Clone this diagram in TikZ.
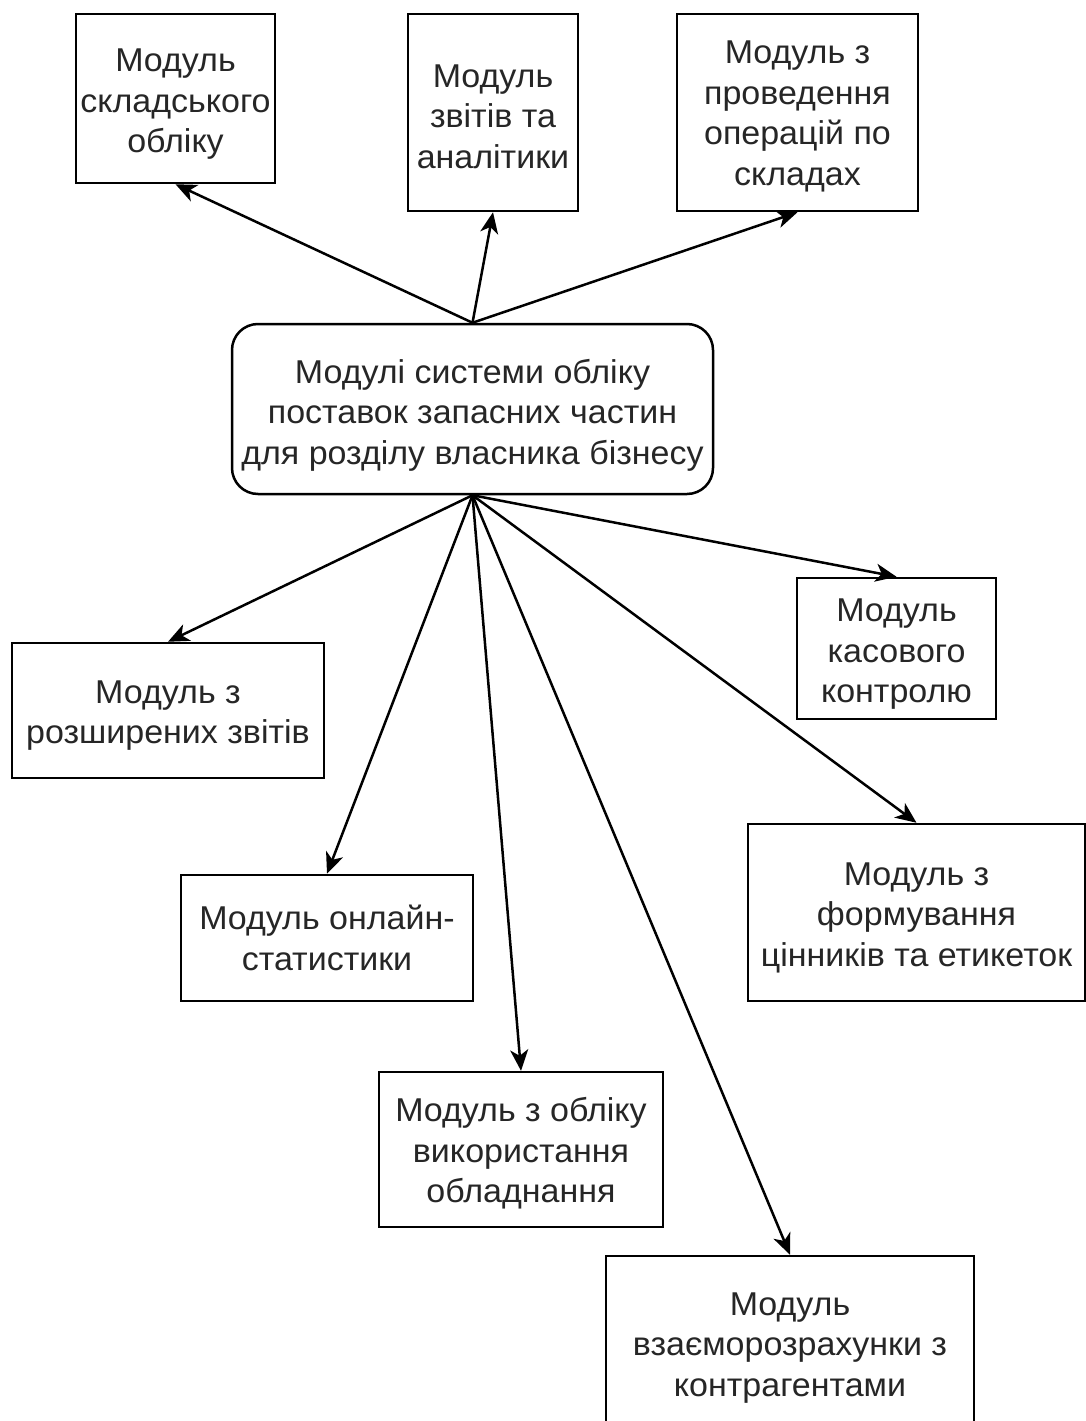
\documentclass[tikz,border=0pt]{standalone}
\usepackage{fontspec}
\setmainfont[FakeStretch=1.03]{Liberation Sans}
\usetikzlibrary{arrows.meta}
\begin{document}
\begin{tikzpicture}[x=1pt,y=-1pt,
  box/.style={draw=black,line width=2.5pt,fill=white,rectangle,inner sep=0pt},
  lbl/.style={align=center,inner sep=0pt,text=black!85,
    font=\fontsize{33}{40.5}\selectfont},
  arr/.style={line width=2.5pt,-{Stealth[length=21pt,width=18pt,inset=6pt]}}]
\useasboundingbox (0,0) rectangle (1086,1421);
\fill[white] (0,0) rectangle (1086,1421);
% top boxes
\node[box,minimum width=199pt,minimum height=169pt,
  label={[lbl,yshift=-6pt]center:{Модуль\\складського\\обліку}}] (A) at (175.5,98.5) {};
\node[box,minimum width=170pt,minimum height=197pt,
  label={[lbl,yshift=-4pt]center:{Модуль\\звітів та\\аналітики}}] (B) at (493,112.5) {};
\node[box,minimum width=241pt,minimum height=197pt,
  label={[lbl,yshift=-4pt]center:{Модуль з\\проведення\\операцій по\\складах}}] (C) at (797.5,112.5) {};
% centre
\node[box,rounded corners=26pt,minimum width=481pt,minimum height=170pt,
  label={[lbl,yshift=-6pt]center:{Модулі системи обліку\\поставок запасних частин\\для розділу власника бізнесу}}] (M) at (472.5,409) {};
% lower boxes
\node[box,minimum width=312pt,minimum height=135pt,
  label={[lbl,yshift=-5pt]center:{Модуль з\\розширених звітів}}] (D) at (168,710.5) {};
\node[box,minimum width=199pt,minimum height=141pt,
  label={[lbl,yshift=-6pt]center:{Модуль\\касового\\контролю}}] (E) at (896.5,648.5) {};
\node[box,minimum width=292pt,minimum height=126pt,
  label={[lbl,yshift=0pt]center:{Модуль онлайн-\\статистики}}] (F) at (327,938) {};
\node[box,minimum width=337pt,minimum height=177pt,
  label={[lbl,yshift=-5pt]center:{Модуль з\\формування\\цінників та етикеток}}] (G) at (916.5,912.5) {};
\node[box,minimum width=284pt,minimum height=155pt,
  label={[lbl,yshift=-4pt]center:{Модуль з обліку\\використання\\обладнання}}] (H) at (521,1149.5) {};
\node[box,minimum width=368pt,minimum height=178pt,
  label={[lbl,yshift=-3pt]center:{Модуль\\взаєморозрахунки з\\контрагентами}}] (I) at (790,1345) {};
% arrows
\draw[arr] (M.north) -- (A.south);
\draw[arr] (M.north) -- (B.south);
\draw[arr] (M.north) -- (C.south);
\draw[arr] (M.south) -- (D.north);
\draw[arr] (M.south) -- (E.north);
\draw[arr] (M.south) -- (F.north);
\draw[arr] (M.south) -- (G.north);
\draw[arr] (M.south) -- (H.north);
\draw[arr] (M.south) -- (I.north);
\end{tikzpicture}
\end{document}
